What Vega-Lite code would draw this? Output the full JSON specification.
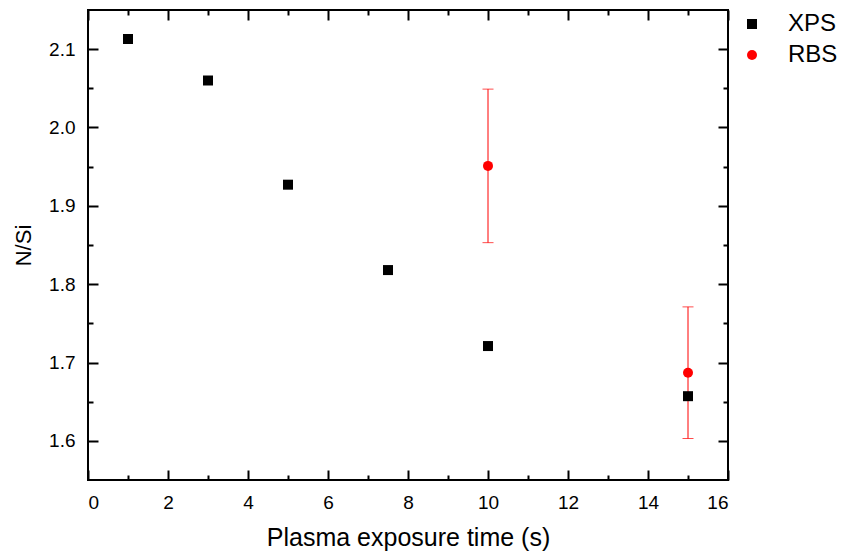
{
  "$schema": "https://vega.github.io/schema/vega-lite/v6.json",
  "width": 640,
  "height": 470,
  "autosize": {"type": "none"},
  "padding": {"left": 88, "top": 10, "right": 115, "bottom": 71},
  "background": "white",
  "config": {
    "view": {"stroke": "black", "strokeWidth": 2},
    "font": "Liberation Sans",
    "axis": {
      "domain": false,
      "grid": false,
      "tickColor": "black",
      "tickWidth": 2,
      "labelColor": "black",
      "titleColor": "black",
      "labelFont": "Liberation Sans",
      "titleFont": "Liberation Sans",
      "labelFontSize": 19,
      "titleFontSize": 24,
      "titleFontWeight": "normal"
    }
  },
  "data": {
    "values": [
      {"series": "XPS", "t": 1, "v": 2.113},
      {"series": "XPS", "t": 3, "v": 2.06},
      {"series": "XPS", "t": 5, "v": 1.927},
      {"series": "XPS", "t": 7.5, "v": 1.818},
      {"series": "XPS", "t": 10, "v": 1.721},
      {"series": "XPS", "t": 15, "v": 1.657},
      {"series": "RBS", "t": 10, "v": 1.951, "lo": 1.853, "hi": 2.049},
      {"series": "RBS", "t": 15, "v": 1.687, "lo": 1.603, "hi": 1.771}
    ]
  },
  "resolve": {"axis": {"x": "independent", "y": "independent"}},
  "layer": [
    {
      "transform": [{"filter": "datum.series === 'RBS'"}],
      "mark": {"type": "rule", "color": "#ff0000", "strokeWidth": 1},
      "encoding": {
        "x": {
          "field": "t", "type": "quantitative",
          "scale": {"domain": [0, 16], "nice": false, "zero": false},
          "axis": {"orient": "top", "title": null, "labels": false, "values": [0,2,4,6,8,10,12,14,16], "tickSize": -10}
        },
        "y": {
          "field": "lo", "type": "quantitative",
          "scale": {"domain": [1.55, 2.15], "nice": false, "zero": false},
          "axis": {"orient": "right", "title": null, "labels": false, "values": [1.6,1.7,1.8,1.9,2.0,2.1], "tickSize": -10}
        },
        "y2": {"field": "hi"}
      }
    },
    {
      "transform": [{"filter": "datum.series === 'RBS'"}],
      "mark": {"type": "tick", "color": "#ff0000", "orient": "horizontal", "size": 11, "thickness": 1},
      "encoding": {
        "x": {
          "field": "t", "type": "quantitative",
          "axis": {"orient": "bottom", "title": null, "labels": false, "values": [1,3,5,7,9,11,13,15], "tickSize": -5}
        },
        "y": {
          "field": "hi", "type": "quantitative",
          "axis": {"orient": "left", "title": null, "labels": false, "values": [1.65,1.75,1.85,1.95,2.05], "tickSize": -5}
        }
      }
    },
    {
      "transform": [{"filter": "datum.series === 'RBS'"}],
      "mark": {"type": "tick", "color": "#ff0000", "orient": "horizontal", "size": 11, "thickness": 1},
      "encoding": {
        "x": {
          "field": "t", "type": "quantitative",
          "axis": {"orient": "top", "title": null, "labels": false, "values": [1,3,5,7,9,11,13,15], "tickSize": -5}
        },
        "y": {
          "field": "lo", "type": "quantitative",
          "axis": {"orient": "right", "title": null, "labels": false, "values": [1.65,1.75,1.85,1.95,2.05], "tickSize": -5}
        }
      }
    },
    {
      "mark": {"type": "point", "filled": true, "opacity": 1, "size": 100},
      "encoding": {
        "x": {
          "field": "t", "type": "quantitative",
          "axis": {
            "orient": "bottom", "title": "Plasma exposure time (s)",
            "values": [0,2,4,6,8,10,12,14,16],
            "tickSize": -10,
            "labelFontSize": 19,
            "labelPadding": 23,
            "titleFontSize": 25,
            "titlePadding": 13
          }
        },
        "y": {
          "field": "v", "type": "quantitative",
          "axis": {
            "orient": "left", "title": "N/Si",
            "values": [1.6,1.7,1.8,1.9,2.0,2.1],
            "format": ".1f",
            "tickSize": -10,
            "labelFontSize": 19,
            "labelPadding": 23,
            "titleFontSize": 22,
            "titlePadding": 13
          }
        },
        "color": {
          "field": "series", "type": "nominal",
          "scale": {"domain": ["XPS", "RBS"], "range": ["black", "#ff0000"]},
          "legend": {
            "title": null, "orient": "none", "legendX": 652, "legendY": 2,
            "labelFontSize": 24, "labelColor": "black", "labelFont": "Liberation Sans",
            "symbolSize": 100, "labelOffset": 24, "rowPadding": 7
          }
        },
        "shape": {
          "field": "series", "type": "nominal",
          "scale": {"domain": ["XPS", "RBS"], "range": ["square", "circle"]}
        }
      }
    }
  ]
}
